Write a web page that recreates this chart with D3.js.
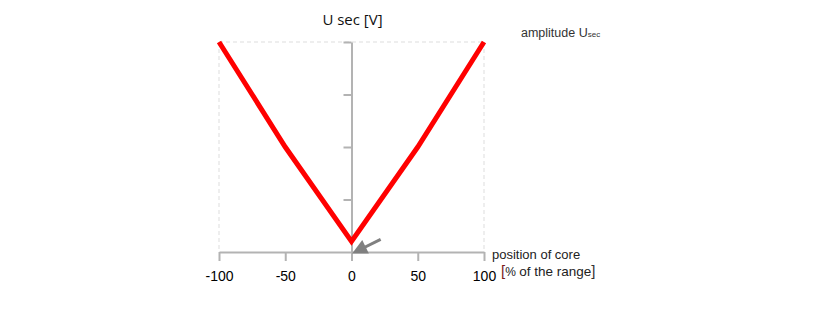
<!DOCTYPE html>
<html>
<head>
<meta charset="utf-8">
<script src="https://cdnjs.cloudflare.com/ajax/libs/d3/7.8.5/d3.min.js"></script>
<style>
  body { margin: 0; background: #fff; }
  svg text { font-family: "Liberation Sans", Arial, sans-serif; }
</style>
</head>
<body>
<div id="chart"></div>
<script>
// core position [% of range] and secondary amplitude
var positions = [-100, -50, 0, 50, 100];
var amplitude = [4, 2, 0.2, 2, 4];
var xTicks = [-100, -50, 0, 50, 100];
var yTicks = [1, 2, 3, 4];

var width = 825, height = 326;
var svg = d3.select("#chart").append("svg")
    .attr("width", width)
    .attr("height", height);

var x = d3.scaleLinear().domain([-100, 100]).range([219, 484]);
var y = d3.scaleLinear().domain([0, 4]).range([252, 42]);

// dashed frame (top and both sides)
var grid = svg.append("g")
    .attr("stroke", "#ddd")
    .attr("stroke-dasharray", "4,3")
    .attr("fill", "none");
grid.append("line").attr("x1", x(-100)).attr("x2", x(100)).attr("y1", y(4)).attr("y2", y(4));
grid.append("line").attr("x1", x(-100)).attr("x2", x(-100)).attr("y1", y(4)).attr("y2", y(0));
grid.append("line").attr("x1", x(100)).attr("x2", x(100)).attr("y1", y(4)).attr("y2", y(0));

// x axis
var xAxis = svg.append("g")
    .attr("transform", "translate(0," + y(0) + ")")
    .call(d3.axisBottom(x).tickValues(xTicks).tickSize(9).tickPadding(10).tickSizeOuter(0)
      .tickFormat(function(d) { return String(d); }));
xAxis.select(".domain").attr("stroke", "#b3b3b3").attr("stroke-width", 2);
xAxis.selectAll(".tick line").attr("stroke", "#b3b3b3").attr("stroke-width", 2);
xAxis.selectAll(".tick text")
    .attr("font-size", 14)
    .attr("fill", "#000")
    .style("font-family", "Liberation Sans, Arial, sans-serif");

// y axis at x = 0
var yAxis = svg.append("g")
    .attr("transform", "translate(" + x(0) + ",0)")
    .call(d3.axisLeft(y).tickValues(yTicks).tickSize(8).tickFormat("").tickSizeOuter(0));
yAxis.select(".domain").attr("stroke", "#b3b3b3").attr("stroke-width", 2);
yAxis.selectAll(".tick line").attr("stroke", "#b3b3b3").attr("stroke-width", 2);

// red characteristic
var line = d3.line()
    .x(function(d, i) { return x(positions[i]); })
    .y(function(d) { return y(d); });
svg.append("path")
    .datum(amplitude)
    .attr("d", line)
    .attr("fill", "none")
    .attr("stroke", "#ff0000")
    .attr("stroke-width", 5)
    .attr("stroke-linejoin", "miter");

// arrow pointing to origin
svg.append("defs").append("marker")
    .attr("id", "head")
    .attr("viewBox", "0 0 10 10")
    .attr("refX", 7).attr("refY", 5)
    .attr("markerWidth", 5.5).attr("markerHeight", 5)
    .attr("orient", "auto")
  .append("path")
    .attr("d", "M0,0 L10,5 L0,10 z")
    .attr("fill", "#808080");
svg.append("line")
    .attr("x1", x(22)).attr("y1", y(0.24))
    .attr("x2", x(3.5)).attr("y2", y(0.01))
    .attr("stroke", "#808080")
    .attr("stroke-width", 3)
    .attr("marker-end", "url(#head)");

// titles
svg.append("text")
    .attr("x", x(0) + 1).attr("y", 25)
    .attr("text-anchor", "middle")
    .attr("font-size", 15)
    .style("font-family", "Open Sans, sans-serif")
    .attr("fill", "#111")
    .text("U sec [V]");

var amp = svg.append("text")
    .attr("x", 521).attr("y", 37)
    .attr("font-size", 12.5)
    .attr("fill", "#333");
amp.append("tspan").text("amplitude U");
amp.append("tspan").attr("font-size", 8).text("sec");

svg.append("text")
    .attr("x", 492).attr("y", 259)
    .attr("font-size", 13)
    .attr("fill", "#222")
    .text("position of core");

var rng = svg.append("text")
    .attr("x", 501).attr("y", 276)
    .attr("font-size", 13.5)
    .attr("fill", "#222");
rng.append("tspan").attr("fill", "#7a1a1a").attr("font-size", 15).text("[");
rng.append("tspan").attr("font-size", 12).text("% ");
rng.append("tspan").attr("font-size", 13.5).text("of the range");
rng.append("tspan").attr("fill", "#333").attr("font-size", 15).text("]");
</script>
</body>
</html>
